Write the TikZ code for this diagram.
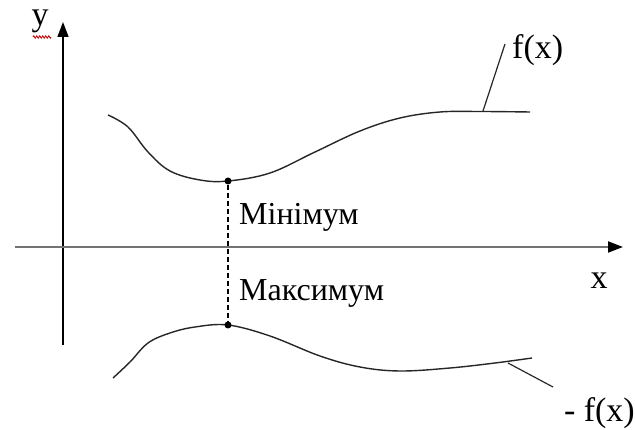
\documentclass[tikz,border=0pt]{standalone}
\usepackage{fontspec}
\setmainfont{Liberation Serif}
\usetikzlibrary{arrows.meta,decorations.pathmorphing}
\begin{document}
\begin{tikzpicture}[x=1pt,y=-1pt,
  lbl/.style={inner sep=0pt,font=\fontsize{34}{36}\selectfont},
  cyr/.style={inner sep=0pt,anchor=west,font=\fontsize{32}{34}\selectfont},
  curve/.style={line width=1.4pt,black!85},
  leader/.style={line width=1.2pt,black!85},
  pt/.style={circle,fill=black,inner sep=0pt,minimum size=7pt}]
\useasboundingbox (0,0) rectangle (635,430);
% axes
\coordinate (yb) at (63,345);
\coordinate (yt) at (63,22);
\coordinate (xl) at (15,247);
\coordinate (xr) at (623,247);
\draw[line width=1.5pt,-{Triangle[length=15pt,width=11pt]}] (yb) -- (yt);
\draw[line width=2pt,black!55,-{Triangle[length=15pt,width=11pt,fill=black,color=black]}] (xl) -- (xr);
\node[lbl] (ylab) at (40,21) {y};
\draw[red!80!black,line width=0.8pt,decorate,decoration={zigzag,segment length=3pt,amplitude=1.2pt}] (33,37) -- (51,37);
\node[lbl] (xlab) at (599,281) {x};
% upper curve f(x)
\draw[curve] plot[smooth,tension=0.6] coordinates {(108,115) (128,127) (148,152) (170,171) (200,180) (228,181) (270,173) (315,152) (360,131) (400,118) (440,112) (480,111.5) (530,112)};
\coordinate (fa) at (483,111);
\node[lbl,anchor=west] (flab) at (512,50) {f(x)};
\draw[leader] (fa) -- (505,44);
% lower curve -f(x)
\draw[curve] plot[smooth,tension=0.6] coordinates {(113,378) (130,362) (148,343) (170,333) (195,327) (228,325) (270,336) (320,356) (360,367) (400,371) (450,368) (495,363) (532,358)};
\coordinate (ga) at (508,363);
\coordinate (gb) at (553,387);
\draw[leader] (ga) -- (gb);
\node[lbl,anchor=east] (glab) at (635,413) {- f(x)};
% extremum points and dashed link
\node[pt] (mn) at (228,181) {};
\node[pt] (mx) at (228,325) {};
\draw[line width=1.2pt,dash pattern=on 5pt off 3pt] (mn) -- (mx);
\node[cyr] (minl) at (239,217) {Мінімум};
\node[cyr] (maxl) at (239,293) {Максимум};
\end{tikzpicture}
\end{document}
